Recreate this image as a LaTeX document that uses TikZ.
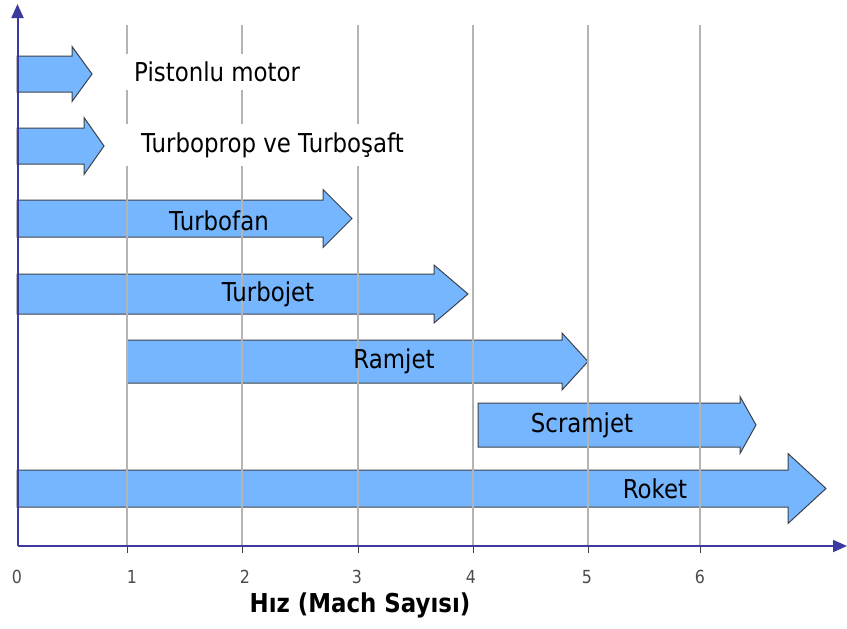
\documentclass[tikz,border=0pt]{standalone}
\usepackage{fontspec}
\setmainfont{DejaVu Sans}[FakeStretch=0.88]
\usetikzlibrary{arrows.meta}

\definecolor{barfill}{RGB}{118,182,255}
\definecolor{barline}{RGB}{60,66,74}
\definecolor{axisblue}{RGB}{58,58,160}
\definecolor{gridgray}{RGB}{180,180,180}

\tikzset{
  motorbar/.style={fill=barfill,draw=barline,line width=1pt,line join=miter},
  gridline/.style={draw=gridgray,line width=1.3pt},
  axisline/.style={draw=axisblue,line width=2pt,-{Triangle[length=14pt,width=12pt]}},
  tickmark/.style={draw=black!75,line width=1pt},
  barlabel/.style={font=\fontsize{26}{29}\selectfont,text=black,inner sep=0pt},
  sidelabel/.style={font=\fontsize{26}{29}\selectfont,text=black,fill=white,inner xsep=15pt,inner ysep=8pt},
  ticklabel/.style={font=\fontsize{18}{20}\selectfont,text=black!70,inner sep=0pt},
  axistitle/.style={font=\bfseries\fontsize{26}{29}\selectfont,text=black,inner sep=0pt}
}

% block arrow: left x, head start x, tip x, centre y, body half height, head half height
\newcommand{\motorarrow}[6]{%
  \draw[motorbar] (#1,#4-#5) -- (#2,#4-#5) -- (#2,#4-#6) -- (#3,#4)
    -- (#2,#4+#6) -- (#2,#4+#5) -- (#1,#4+#5) -- cycle;}

\begin{document}
\begin{tikzpicture}[x=1pt,y=-1pt]
\useasboundingbox (0,0) rectangle (847,629);

% speed ranges of the engine types
\motorarrow{17}{72}{92}{74}{18}{27.5}
\motorarrow{17}{84}{104}{146}{18}{28.5}
\motorarrow{17}{323}{352}{218.5}{18.5}{29}
\motorarrow{17}{434}{468}{294}{20}{29}
\motorarrow{127}{562}{588}{361.5}{21.5}{28.5}
\motorarrow{478}{740}{756}{425}{22}{28.5}
\motorarrow{17}{788}{826}{488.5}{18.5}{35}

% Mach grid
\foreach \gx [count=\i] in {127,242,358,473,588,700}{
  \coordinate (gt\i) at (\gx,25);
  \coordinate (gb\i) at (\gx,546);
  \draw[gridline] (gt\i) -- (gb\i);
  \coordinate (tk\i) at (\gx,553);
  \draw[tickmark] (gb\i) -- (tk\i);
}

% labels beside the short arrows
\node[sidelabel,anchor=west] (piston) at (119,72) {Pistonlu motor};
\node[sidelabel,anchor=west] (tprop) at (126,145) {Turboprop ve Turboşaft};

% axes
\coordinate (origin) at (17.5,546);
\coordinate (ytop) at (17.5,4);
\coordinate (xend) at (847,546);
\draw[axisline] (origin) -- (ytop);
\draw[axisline] (origin) -- (xend);

% labels on the bars
\node[barlabel] (tfan) at (219,221) {Turbofan};
\node[barlabel] (tjet) at (268,294) {Turbojet};
\node[barlabel] (ram) at (394,361) {Ramjet};
\node[barlabel] (scram) at (582,425) {Scramjet};
\node[barlabel] (roket) at (655,489) {Roket};

% tick labels and axis title
\node[ticklabel] (m0) at (17,577) {0};
\node[ticklabel] (m1) at (132,577) {1};
\node[ticklabel] (m2) at (245,577) {2};
\node[ticklabel] (m3) at (357,577) {3};
\node[ticklabel] (m4) at (471,577) {4};
\node[ticklabel] (m5) at (587,577) {5};
\node[ticklabel] (m6) at (700,577) {6};
\node[axistitle] (title) at (360,605) {Hız (Mach Sayısı)};
\end{tikzpicture}
\end{document}
